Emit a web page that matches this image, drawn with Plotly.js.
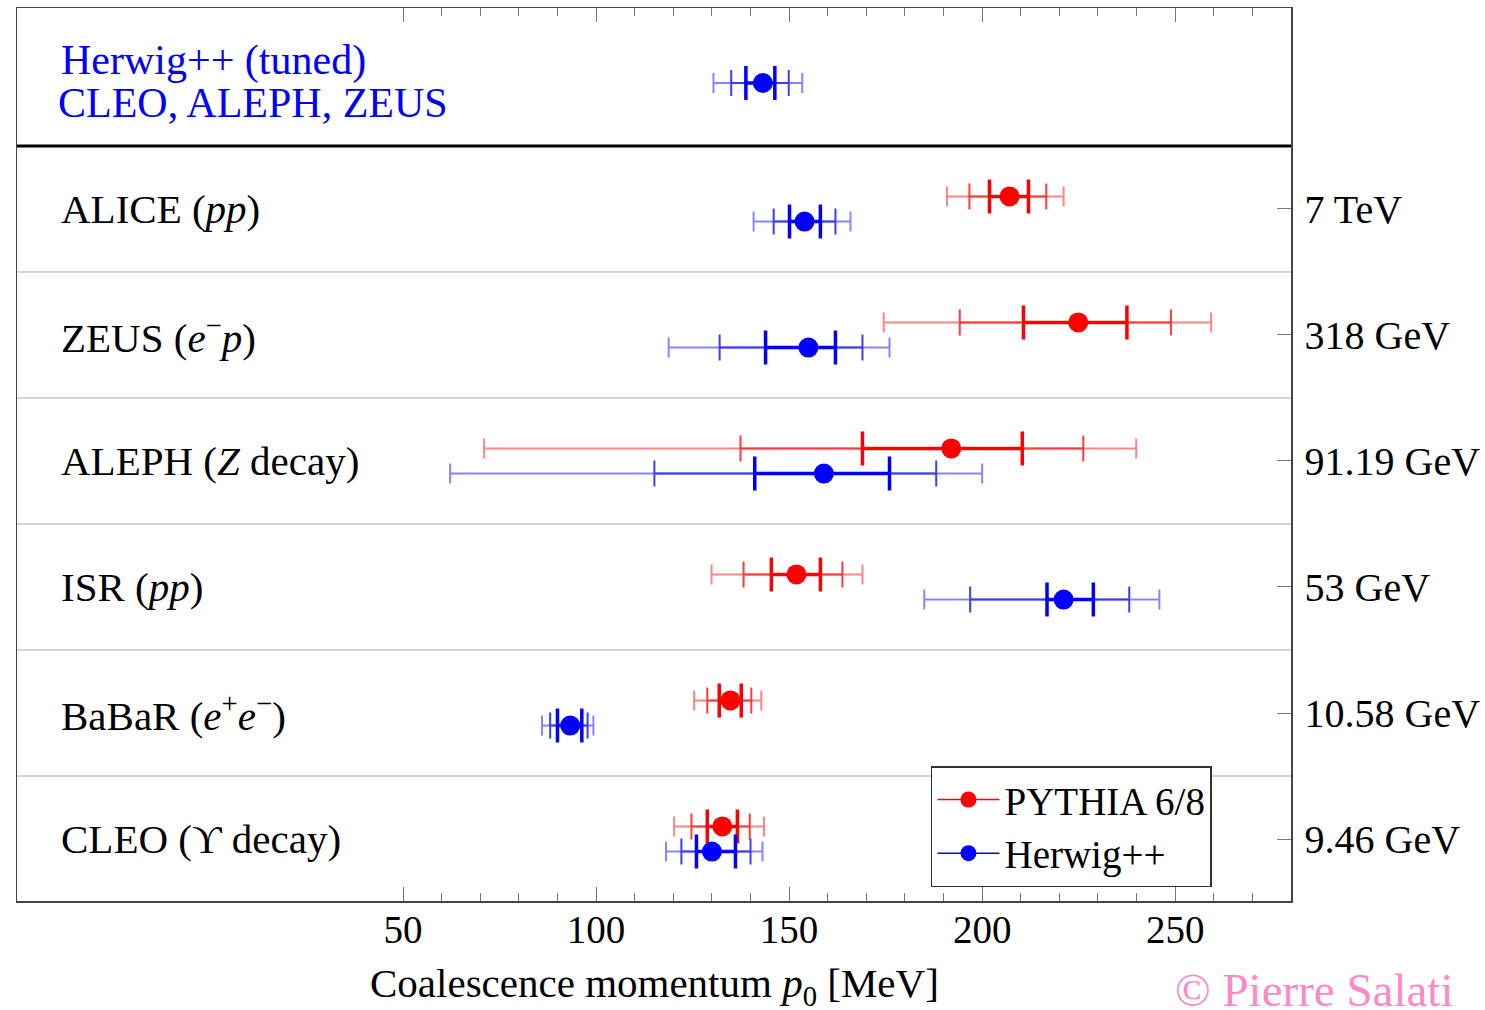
<!DOCTYPE html>
<html>
<head>
<meta charset="utf-8">
<script src="https://cdn.plot.ly/plotly-3.0.1.min.js"></script>
<style>html,body{margin:0;padding:0;background:#fff;}#chart{width:1485px;height:1010px;}</style>
</head>
<body>
<div id="chart"></div>
<script>
// ---- Data (row 0 = bottom) ----
const experiments = ['CLEO (\u03D2 decay)', 'BaBaR (<i>e</i><sup>+</sup><i>e</i><sup>\u2212</sup>)', 'ISR (<i>pp</i>)',
  'ALEPH (<i>Z</i> decay)', 'ZEUS (<i>e</i><sup>\u2212</sup><i>p</i>)', 'ALICE (<i>pp</i>)'];
const energies = ['9.46 GeV', '10.58 GeV', '53 GeV', '91.19 GeV', '318 GeV', '7 TeV'];

// PYTHIA 6/8: central value and bounds at 1, 2, 3 sigma
const pythiaP0  = [132.7, 134.8, 151.9, 192.0, 224.9, 207.1];
const pythiaLo1 = [128.8, 131.9, 145.4, 169.0, 210.7, 201.9];
const pythiaHi1 = [136.6, 137.6, 158.1, 210.4, 237.5, 212.0];
const pythiaLo2 = [124.7, 128.8, 138.2, 137.4, 194.2, 196.7];
const pythiaHi2 = [139.8, 140.2, 163.8, 226.2, 248.9, 216.6];
const pythiaLo3 = [120.2, 125.4, 129.9, 71.0, 174.5, 190.9];
const pythiaHi3 = [143.5, 142.8, 169.0, 239.9, 259.3, 221.1];

// Herwig++
const herwigP0  = [130.0, 93.3, 221.1, 159.0, 155.0, 154.0];
const herwigLo1 = [126.0, 90.0, 216.8, 141.1, 143.9, 150.1];
const herwigHi1 = [136.1, 96.3, 228.8, 176.0, 162.0, 158.1];
const herwigLo2 = [122.1, 88.1, 196.9, 115.1, 132.0, 146.0];
const herwigHi2 = [140.0, 97.8, 238.1, 188.1, 169.0, 162.0];
const herwigLo3 = [118.1, 86.0, 185.0, 62.2, 118.8, 140.8];
const herwigHi3 = [143.1, 99.3, 245.9, 200.0, 176.0, 165.9];

// Herwig++ tuned (CLEO, ALEPH, ZEUS)
const tunedP0 = [143.2];
const tunedLo1 = [138.8], tunedHi1 = [146.3];
const tunedLo2 = [135.0], tunedHi2 = [149.9];
const tunedLo3 = [130.4], tunedHi3 = [153.4];

const xTicks = [50, 100, 150, 200, 250];
const xMinorTicks = [50,60,70,80,90,100,110,120,130,140,150,160,170,180,190,200,210,220,230,240,250,260,270];

// ---- Build ----
const FONT = 'Liberation Serif, Times New Roman, serif';
const rowIdx = experiments.map((_, i) => i);
const TUNED_ROW = 6;

function diff(a, b) { return a.map((v, i) => Math.abs(v - b[i])); }

function seriesTraces(p0, ys, lo1, hi1, lo2, hi2, lo3, hi3, cFull, cMid, cLight) {
  const base = {type: 'scatter', mode: 'markers', x: p0, y: ys, showlegend: false, hoverinfo: 'skip', cliponaxis: false};
  return [
    Object.assign({}, base, {
      marker: {size: 2, color: 'rgba(0,0,0,0)'},
      error_x: {type: 'data', symmetric: false, array: diff(hi3, p0), arrayminus: diff(p0, lo3),
                color: cLight, thickness: 2, width: 10}
    }),
    Object.assign({}, base, {
      marker: {size: 2, color: 'rgba(0,0,0,0)'},
      error_x: {type: 'data', symmetric: false, array: diff(hi2, p0), arrayminus: diff(p0, lo2),
                color: cMid, thickness: 2, width: 13}
    }),
    Object.assign({}, base, {
      marker: {size: 20, color: cFull, line: {width: 0}},
      error_x: {type: 'data', symmetric: false, array: diff(hi1, p0), arrayminus: diff(p0, lo1),
                color: cFull, thickness: 3.5, width: 17}
    })
  ];
}

const traces = [];
traces.push(...seriesTraces(pythiaP0, rowIdx.map(i => i + 0.1),
  pythiaLo1, pythiaHi1, pythiaLo2, pythiaHi2, pythiaLo3, pythiaHi3, '#ff0000', '#ff3c3c', '#ff8585'));
traces.push(...seriesTraces(herwigP0, rowIdx.map(i => i - 0.1),
  herwigLo1, herwigHi1, herwigLo2, herwigHi2, herwigLo3, herwigHi3, '#0000ff', '#3c3cff', '#8585ff'));
traces.push(...seriesTraces(tunedP0, [TUNED_ROW],
  tunedLo1, tunedHi1, tunedLo2, tunedHi2, tunedLo3, tunedHi3, '#0000ff', '#3c3cff', '#8585ff'));

// legend entries
traces.push({type: 'scatter', mode: 'lines+markers', name: 'PYTHIA 6/8', x: [null], y: [null],
  line: {color: '#ff0000', width: 1.5}, marker: {size: 18, color: '#ff0000'}, showlegend: true});
traces.push({type: 'scatter', mode: 'lines+markers', name: 'Herwig++', x: [null], y: [null],
  line: {color: '#0000ff', width: 1.5}, marker: {size: 18, color: '#0000ff'}, showlegend: true});

const shapes = [];
for (let k = 0; k < 5; k++) {
  shapes.push({type: 'line', xref: 'paper', yref: 'y', x0: 0, x1: 1, y0: k + 0.5, y1: k + 0.5,
    line: {color: '#aaaaaa', width: 1}});
}
shapes.push({type: 'line', xref: 'paper', yref: 'y', x0: 0, x1: 1, y0: 5.5, y1: 5.5,
  line: {color: '#000000', width: 3}});

const annotations = experiments.map((t, i) => ({
  xref: 'paper', yref: 'y', x: 0.033, y: i, xanchor: 'left', yanchor: 'middle',
  text: t, showarrow: false, font: {family: FONT, size: 41, color: '#000'}
}));
annotations.push({xref: 'paper', yref: 'y', x: 0.033, y: 6.18, xanchor: 'left', yanchor: 'middle',
  text: 'Herwig++ (tuned)', showarrow: false, font: {family: FONT, size: 42, color: '#0000ff'}});
annotations.push({xref: 'paper', yref: 'y', x: 0.031, y: 5.84, xanchor: 'left', yanchor: 'middle',
  text: 'CLEO, ALEPH, ZEUS', showarrow: false, font: {family: FONT, size: 42, color: '#0000ff'}});
annotations.push({xref: 'paper', yref: 'paper', x: 0.5, y: -0.095, xanchor: 'center', yanchor: 'middle',
  text: 'Coalescence momentum <i>p</i><sub>0</sub> [MeV]', showarrow: false,
  font: {family: FONT, size: 41, color: '#000'}});
annotations.push({xref: 'paper', yref: 'paper', x: 1.129, y: -0.1, xanchor: 'right', yanchor: 'middle',
  text: '\u00A9 Pierre Salati', showarrow: false, font: {family: FONT, size: 47, color: '#ff88c8'}});

const layout = {
  width: 1485, height: 1010,
  margin: {l: 17, r: 194, t: 8, b: 109, pad: 0},
  paper_bgcolor: '#ffffff', plot_bgcolor: '#ffffff',
  font: {family: FONT, size: 38, color: '#000'},
  xaxis: {
    range: [-50, 280], showgrid: false, zeroline: false,
    showline: true, linecolor: '#444', linewidth: 1.5, mirror: 'ticks',
    tickmode: 'array', tickvals: xTicks, ticktext: xTicks.map(String),
    ticks: 'inside', ticklen: 14, tickwidth: 1, tickcolor: '#777',
    ticklabelstandoff: -6,
    minor: {tickmode: 'array', tickvals: xMinorTicks, ticks: 'inside', ticklen: 8, tickwidth: 1, tickcolor: '#777', showgrid: false},
    tickfont: {family: FONT, size: 39, color: '#000'}
  },
  yaxis: {
    range: [-0.492, 6.595], side: 'right', showgrid: false, zeroline: false,
    showline: true, linecolor: '#444', linewidth: 1.5, mirror: true,
    tickmode: 'array', tickvals: rowIdx, ticktext: energies,
    ticks: 'inside', ticklen: 14, tickwidth: 1, tickcolor: '#777',
    ticklabelstandoff: 4,
    tickfont: {family: FONT, size: 40, color: '#000'}
  },
  showlegend: true,
  legend: {
    x: 0.7174, y: 0.151, xanchor: 'left', yanchor: 'top',
    bgcolor: '#ffffff', bordercolor: '#333', borderwidth: 1.5,
    font: {family: FONT, size: 39, color: '#000'},
    itemwidth: 62, tracegroupgap: 0
  },
  shapes: shapes,
  annotations: annotations
};

Plotly.newPlot('chart', traces, layout, {displayModeBar: false, staticPlot: true});
</script>
</body>
</html>
